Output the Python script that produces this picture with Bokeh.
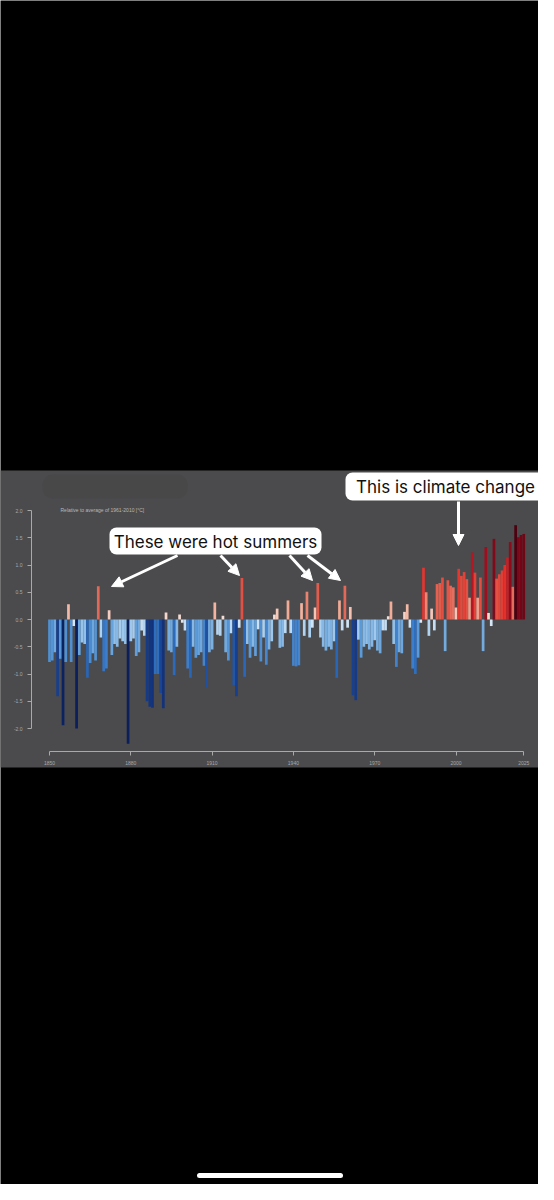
from bokeh.plotting import figure
from bokeh.models import (ColumnDataSource, LinearAxis, FixedTicker, NumeralTickFormatter,
                          Label, Arrow, NormalHead, BoxAnnotation, LinearColorMapper, Range1d)
from bokeh.transform import transform
from bokeh.embed import file_html
from bokeh.resources import INLINE

# ---------------- data ----------------
years = list(range(1850, 2026))
anomaly = [
    # 1850-1859
    -0.78, -0.75, -0.60, -1.41, -0.72, -1.94, -0.78, 0.28, -0.78, -0.12,
    # 1860-1869
    -2.00, -0.65, -0.42, -0.45, -1.07, -0.80, -0.62, -0.75, 0.61, -0.33,
    # 1870-1879
    -0.95, -0.90, 0.17, -0.65, -0.45, -0.50, -0.35, -0.40, -0.45, -2.28,
    # 1880-1889
    -0.40, -0.35, -0.67, -0.60, -0.20, -0.30, -1.50, -1.60, -1.62, -1.00,
    # 1890-1899
    -1.00, -1.35, -1.63, 0.13, -0.57, -0.60, -1.02, -0.50, 0.09, -0.06,
    # 1900-1909
    -0.20, -0.90, -1.07, -0.50, -0.70, -0.65, -0.60, -0.85, -1.25, -0.60,
    # 1910-1919
    -0.55, 0.31, -0.28, -0.30, 0.07, -0.60, -0.75, -0.25, -1.20, -1.41,
    # 1920-1929
    -0.15, 0.76, -1.05, -0.45, -0.70, -0.50, -0.67, -0.18, -0.77, -0.33,
    # 1930-1939
    -0.83, -0.55, -0.40, 0.09, 0.20, -0.52, -0.50, -0.25, 0.35, -0.25,
    # 1940-1949
    -0.85, -0.86, -0.84, 0.30, -0.30, 0.51, -0.33, -0.15, 0.22, 0.67,
    # 1950-1959
    -0.33, -0.50, -0.57, -0.50, -0.55, -0.40, -1.07, 0.35, -0.20, 0.62,
    # 1960-1969
    -0.15, 0.23, -1.39, -1.48, -0.37, -0.70, -0.50, -0.45, -0.55, -0.50,
    # 1970-1979
    -0.38, -0.57, -0.62, -0.20, -0.20, 0.06, 0.33, -0.45, -0.87, -0.60,
    # 1980-1989
    -0.62, 0.14, 0.28, -0.15, -0.90, -1.00, -0.70, -0.06, 0.95, 0.50,
    # 1990-1999
    -0.30, 0.20, -0.20, 0.65, 0.67, 0.77, -0.58, 0.72, 0.62, 0.59,
    # 2000-2009
    0.22, 0.93, 0.80, 0.87, 0.74, 0.40, 1.23, 0.86, 0.40, 0.77,
    # 2010-2019
    -0.58, 1.33, 0.12, -0.12, 1.48, 0.75, 0.83, 0.90, 1.00, 1.14,
    # 2020-2025
    1.42, 0.60, 1.73, 1.51, 1.55, 1.57,
]
assert len(years) == len(anomaly)

y_ticks = [-2.0, -1.5, -1.0, -0.5, 0.0, 0.5, 1.0, 1.5, 2.0]
x_ticks = [1850, 1880, 1910, 1940, 1970, 2000, 2025]
subtitle = "Relative to average of 1961-2010 [°C]"
callout_hot = "These were hot summers"
callout_climate = "This is climate change"

# ---------------- layout helpers (reference pixel -> data) ----------------
W, H = 538, 1184
PX_PER_YEAR = 2.71
PX_PER_DEG = 54.5
X0 = 1850 - (57 - 8) / PX_PER_YEAR
X1 = X0 + W / PX_PER_YEAR
YT = (627 - 8) / PX_PER_DEG
YB = YT - H / PX_PER_DEG


def X(px):
    return X0 + (px - 8) / PX_PER_YEAR


def Y(py):
    return YT - (py - 8) / PX_PER_DEG


# ---------------- colour map ----------------
anchors = [(-2.0, "#0a1f5c"), (-1.4, "#17408f"), (-1.0, "#2e6ebf"), (-0.7, "#5c9bd8"),
           (-0.4, "#9dc7ec"), (-0.1, "#d9e9f7"), (0.1, "#f7dcd2"), (0.35, "#f2ab96"),
           (0.65, "#e2604f"), (1.0, "#e3302a"), (1.3, "#a80f1f"), (1.75, "#4a0010")]


def hex2rgb(h):
    return tuple(int(h[i:i + 2], 16) for i in (1, 3, 5))


LOW, HIGH, N = anchors[0][0], anchors[-1][0], 256
palette = []
for i in range(N):
    v = LOW + (HIGH - LOW) * i / (N - 1)
    for (a, ca), (b, cb) in zip(anchors[:-1], anchors[1:]):
        if a <= v <= b:
            t = (v - a) / (b - a)
            r1, g1, b1 = hex2rgb(ca)
            r2, g2, b2 = hex2rgb(cb)
            palette.append("#%02x%02x%02x" % (round(r1 + (r2 - r1) * t),
                                             round(g1 + (g2 - g1) * t),
                                             round(b1 + (b2 - b1) * t)))
            break
mapper = LinearColorMapper(palette=palette, low=LOW, high=HIGH)

# ---------------- figure ----------------
p = figure(width=W, height=H, output_backend="svg", toolbar_location=None,
           x_range=Range1d(X0, X1), y_range=Range1d(YB, YT),
           x_axis_location=None, y_axis_location=None,
           min_border=0, background_fill_color="black", border_fill_color="black",
           outline_line_color=None)
p.grid.visible = False

# grey photographed chart band
p.add_layout(BoxAnnotation(top=Y(478), bottom=Y(775), fill_color="#4b4b4d", fill_alpha=1.0,
                           line_color=None, level="underlay"))
# faint blurred smudge near top-left
p.add_layout(BoxAnnotation(top=Y(482), bottom=Y(506), left=X(50), right=X(195),
                           fill_color="#3f3f41", fill_alpha=0.25, line_color=None,
                           level="underlay", border_radius=10))

src = ColumnDataSource(dict(year=years, anomaly=anomaly))
p.vbar(x="year", top="anomaly", bottom=0, width=1.0, source=src,
       fill_color=transform("anomaly", mapper), line_color=None)

# axes drawn inside the band
yaxis = LinearAxis(fixed_location=X(39), bounds=(-2, 2), ticker=FixedTicker(ticks=y_ticks),
                   formatter=NumeralTickFormatter(format="0.0"))
xaxis = LinearAxis(fixed_location=Y(759), bounds=(1850, 2025), ticker=FixedTicker(ticks=x_ticks))
for ax in (yaxis, xaxis):
    ax.axis_line_color = "#a9a9a9"
    ax.axis_line_width = 1
    ax.major_tick_line_color = "#a9a9a9"
    ax.major_tick_out = 4
    ax.major_tick_in = 0
    ax.minor_tick_line_color = None
    ax.major_label_text_font_size = "5px"
    ax.major_label_text_color = "#a8a8a8"
    ax.major_label_text_font = "Liberation Sans"
    ax.major_label_standoff = 5
p.add_layout(yaxis, "left")
p.add_layout(xaxis, "below")

p.add_layout(Label(x=X(68), y=Y(517), text=subtitle, text_font_size="5px",
                   text_color="#b8b8b8", text_baseline="middle", text_font="Liberation Sans"))

# callout boxes
p.quad(left=[X(117)], right=[X(329)], top=[Y(535)], bottom=[Y(562)],
       fill_color="white", line_color=None, border_radius=7)
p.quad(left=[X(353)], right=[X(553)], top=[Y(480)], bottom=[Y(508)],
       fill_color="white", line_color=None, border_radius=7)
p.add_layout(Label(x=X(223), y=Y(549), text=callout_hot, text_font="Inter",
                   text_font_size="17px", text_color="#111111",
                   text_align="center", text_baseline="middle"))
p.add_layout(Label(x=X(453), y=Y(494), text=callout_climate, text_font="Inter",
                   text_font_size="17px", text_color="#111111",
                   text_align="center", text_baseline="middle"))

arrows = [((185, 563), (119, 594)), ((228, 563), (247, 583)), ((297, 563), (320, 588)),
          ((315, 563), (348, 588)), ((466, 509), (466, 553))]
for (sx, sy), (ex, ey) in arrows:
    p.add_layout(Arrow(end=NormalHead(size=11, fill_color="white", line_color="white"),
                       x_start=X(sx), y_start=Y(sy), x_end=X(ex), y_end=Y(ey),
                       line_color="white", line_width=3))

# phone home indicator
p.segment(x0=[X(207)], y0=[Y(1183)], x1=[X(348)], y1=[Y(1183)],
          line_color="white", line_width=5, line_cap="round")

open("out.html", "w").write(file_html(p, INLINE))
